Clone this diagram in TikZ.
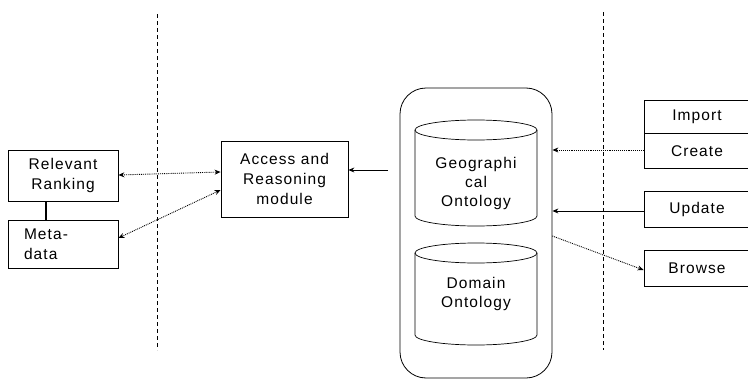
\documentclass[tikz,border=0pt]{standalone}
\usepackage{fontspec}
\setmainfont{Liberation Sans}[LetterSpace=7]
\usetikzlibrary{arrows.meta}
\begin{document}
\begin{tikzpicture}[x=1pt,y=-1pt,
  lbl/.style={align=center,font=\fontsize{15.5}{20}\selectfont},
  box/.style={lbl,draw,line width=0.8pt,inner sep=0pt},
  dotline/.style={densely dotted,line width=0.9pt},
  tip/.style={-{Stealth[length=6pt,width=5pt]}},
  bitip/.style={{Stealth[length=6pt,width=5pt]}-{Stealth[length=6pt,width=5pt]}},
  sep/.style={dashed,line width=0.6pt,dash pattern=on 4pt off 3pt}]
\useasboundingbox (0,0) rectangle (748,380);
% separators
\coordinate (s1t) at (157,14); \coordinate (s1b) at (157,350);
\coordinate (s2t) at (603,12); \coordinate (s2b) at (603,350);
\draw[sep] (s1t) -- (s1b);
\draw[sep] (s2t) -- (s2b);
% left boxes
\node[box,minimum width=110pt,minimum height=51pt] (rr) at (63,175.5) {Relevant\\Ranking};
\node[box,minimum width=110pt,minimum height=48pt,align=left,text width=78pt] (md) at (63,244) {Meta-\\data};
\draw[line width=1.6pt] (rr.south -| 46,0) -- (md.north -| 46,0);
% access
\node[box,minimum width=127pt,minimum height=76pt] (ar) at (284.5,179) {Access and\\Reasoning\\module};
% container
\node[draw,line width=0.8pt,rounded corners=26pt,minimum width=152pt,minimum height=290pt] (ct) at (476,233) {};
% cylinders
\foreach \t/\b in {120/226, 243/345}{
  \draw[line width=0.7pt] (415,\t+10) -- (415,\b-10) arc[start angle=180,end angle=360,x radius=61pt,y radius=10pt] -- (537,\t+10);
  \draw[line width=0.7pt] (476,\t+10) ellipse[x radius=61pt,y radius=10pt];
}
\node[lbl,font=\fontsize{15.5}{19}\selectfont] (geo) at (476,183) {Geographi\\cal\\Ontology};
\node[lbl,font=\fontsize{15.5}{19}\selectfont] (dom) at (476,294) {Domain\\Ontology};
% right boxes
\node[box,minimum width=106pt,minimum height=33pt] (imp) at (697,116.5) {Import};
\node[box,minimum width=106pt,minimum height=35pt,anchor=north] (cre) at (imp.south) {Create};
\node[box,minimum width=106pt,minimum height=36pt] (upd) at (697,209) {Update};
\node[box,minimum width=106pt,minimum height=36pt] (brw) at (697,268) {Browse};
% connectors
\draw[dotline,bitip] (rr.east |- 0,175) -- (ar.west |- 0,172);
\draw[dotline,bitip] (md.east |- 0,238) -- (ar.west |- 0,190);
\coordinate (ctl) at (388,170);
\draw[line width=0.9pt,tip] (ctl) -- (ar.east |- 0,170);
\draw[dotline,tip] (cre.west |- 0,150) -- (ct.east |- 0,150);
\draw[line width=0.9pt,tip] (upd.west |- 0,211) -- (ct.east |- 0,211);
\draw[dotline,tip] (ct.east |- 0,236) -- (brw.west |- 0,270);
\end{tikzpicture}
\end{document}
